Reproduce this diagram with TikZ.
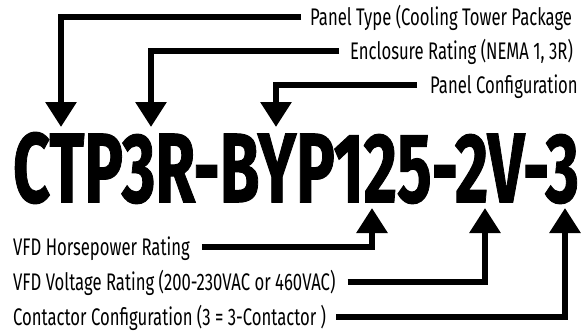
\documentclass[tikz,border=0pt]{standalone}
\usepackage{fontspec}
\setmainfont{Fira Sans}[FakeStretch=0.695]
\newfontfamily\codefont{Fira Sans}[BoldFeatures={FakeBold=1.2}]
\usetikzlibrary{arrows.meta,positioning}

\begin{document}
\begin{tikzpicture}[
    x=1pt, y=-1pt,
    lbl/.style={
      inner sep=0pt, anchor=west,
      font=\fontsize{24}{28}\selectfont,
      text height=16.6pt, text depth=0pt
    },
    code/.style={inner sep=0pt, font=\codefont\bfseries},
    pointer/.style={line width=6pt, -{Triangle[width=30pt,length=25pt]}}
  ]
    \useasboundingbox (0,0) rectangle (587,332);

    % part number
    \node[code] (pn) at (296,168) {\resizebox{566pt}{70pt}{CTP3R-BYP125-2V-3}};

    % arrow tips on the part number
    \coordinate (tType) at (61,127);
    \coordinate (tEncl) at (151,127);
    \coordinate (tConf) at (276,127);
    \coordinate (tHp) at (372,208);
    \coordinate (tVolt) at (485,208);
    \coordinate (tCont) at (565,208);

    % upper labels
    \node[lbl] (type) at (310,17) {Panel Type (Cooling Tower Package};
    \node[lbl] (encl) at (350,51) {Enclosure Rating (NEMA 1, 3R)};
    \node[lbl] (conf) at (430,85) {Panel Configuration};

    % lower labels
    \node[lbl] (hp) at (13,247) {VFD Horsepower Rating};
    \node[lbl] (volt) at (13,282) {VFD Voltage Rating (200-230VAC or 460VAC)};
    \node[lbl] (cont) at (13,317) {Contactor Configuration (3 = 3-Contactor )};

    \draw[pointer] ([xshift=-9pt]type.west) -| (tType);
    \draw[pointer] ([xshift=-11pt]encl.west) -| (tEncl);
    \draw[pointer] ([xshift=-13pt]conf.west) -| (tConf);
    \draw[pointer] ([xshift=12pt]hp.east) -| (tHp);
    \draw[pointer] ([xshift=12pt]volt.east) -| (tVolt);
    \draw[pointer] ([xshift=10pt]cont.east) -| (tCont);
  \end{tikzpicture}
\end{document}
